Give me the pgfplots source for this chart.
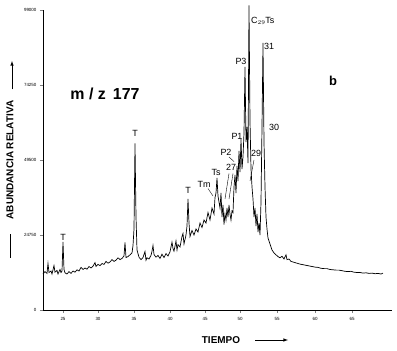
\documentclass[border=0pt]{standalone}
\usepackage{pgfplots}
\pgfplotsset{compat=1.18}
\usepackage{fontspec}
\setmainfont{Liberation Sans}
\setsansfont{Liberation Sans}
\pgfplotstableread{
px v
43 11.0
45 11.8
47 11.2
48 14.5
49 11.5
51 12.0
52 11.0
54 13.8
55 11.6
57 12.2
58 11.0
60 12.5
61 11.5
62 12.0
63 21.7
64 12.5
65 11.4
67 11.0
69 11.8
71 11.2
73 12.0
75 11.6
77 12.4
79 12.0
81 13.2
83 12.5
85 13.0
87 12.6
89 13.5
91 13.0
93 13.6
95 14.8
96 13.5
98 14.2
100 13.8
102 14.5
104 14.2
106 15.2
108 14.6
110 15.0
112 15.8
114 15.2
116 15.6
118 16.4
120 15.8
122 16.2
124 17.0
125 21.5
126 16.5
128 16.8
130 17.4
132 18.0
133 20.5
134 26.0
135 54.5
136 30.0
137 19.0
139 16.6
141 15.8
143 16.5
145 18.5
146 15.6
147 16.4
149 16.0
151 17.2
152 18.6
153 20.5
154 17.5
156 16.6
158 17.2
160 16.2
162 17.6
164 16.5
166 17.8
168 17.0
170 18.4
172 21.6
173 19.5
174 18.6
176 22.0
177 19.0
178 20.8
180 20.0
182 23.5
183 24.5
184 21.0
186 24.0
187 27.0
188 36.0
189 28.0
190 23.5
192 25.5
194 24.0
196 26.0
198 25.0
200 28.0
202 26.5
204 29.0
206 28.0
208 31.5
210 29.0
212 33.0
214 31.0
215 36.5
216 38.0
217 43.0
218 37.0
219 35.0
220 33.0
221 38.0
222 30.0
223 34.0
224 27.5
225 31.0
226 29.0
227 33.0
228 30.0
229 34.0
230 31.0
231 29.0
232 32.0
233 31.5
234 40.0
235 44.0
236 38.0
237 47.0
238 42.0
239 52.0
240 45.0
241 56.0
242 46.0
243 50.0
244 58.0
245 80.0
246 55.0
247 60.0
248 48.0
249 100.5
250 62.0
251 46.0
252 40.0
253 36.0
254 30.0
255 33.0
256 27.0
257 31.0
258 25.0
259 28.0
260 24.0
261 35.0
262 60.0
263 88.0
264 55.0
265 40.0
266 30.0
267 26.0
268 23.0
270 21.0
272 19.0
274 18.0
276 17.4
278 16.8
280 16.4
282 16.9
284 16.0
286 17.4
287 15.8
289 16.0
291 15.2
293 15.0
295 14.8
297 14.6
300 14.3
303 14.1
306 13.9
309 13.7
312 13.5
315 13.3
318 13.2
321 12.9
324 12.8
327 12.8
330 12.5
333 12.4
336 12.3
339 12.3
342 12.1
345 11.9
348 11.8
351 11.9
354 11.6
357 11.5
360 11.5
363 11.3
366 11.4
369 11.2
372 11.3
375 11.1
378 11.2
381 11.0
383 11.3
}\trace
\begin{document}
\begin{tikzpicture}
\begin{axis}[
  scale only axis, width=349bp, height=300bp,
  xmin=43, xmax=392, ymin=-1, ymax=99,
  axis lines=left, axis line style={-, line width=0.8pt},
  tick align=outside, major tick length=3bp,
  xtick={63,98,134,170,205,240,277,315,352},
  xticklabels={25,30,35,40,45,50,55,60,65},
  ytick={-1,24,49,74,99},
  yticklabels={0,24750,49500,74250,99000},
  tick label style={font=\fontsize{4.5}{5}\selectfont},
  xticklabel style={yshift=-1bp},
  clip=false,
]
\addplot[black, line width=0.7pt, sharp plot] table[x=px, y=v] {\trace};
\begin{scope}[font=\fontsize{9}{10}\selectfont, inner sep=0pt]
\node at (axis cs:63,23.3) {T};
\node at (axis cs:135,57.7) {T};
\node at (axis cs:188,38.7) {T};
\node at (axis cs:204,41) {Tm};
\node at (axis cs:216,45) {Ts};
\node at (axis cs:231,46.7) {27};
\node at (axis cs:226,51.7) {P2};
\node at (axis cs:237,56.7) {P1};
\node at (axis cs:241,81.7) {P3};
\node[anchor=west] at (axis cs:251,95.5) {C$_{29}$Ts};
\node at (axis cs:269,86.7) {31};
\node at (axis cs:274,59.7) {30};
\node at (axis cs:256,51.3) {29};
\end{scope}
\draw[black, line width=0.4pt] (axis cs:208,39.5) -- (axis cs:213,37);
\draw[black, line width=0.4pt] (axis cs:229,50) -- (axis cs:234,48.5);
\draw[black, line width=0.4pt] (axis cs:229,44.5) -- (axis cs:225,36);
\draw[black, line width=0.4pt] (axis cs:233,44.5) -- (axis cs:229,36);
\draw[black, line width=0.4pt] (axis cs:254,49) -- (axis cs:250,42);
\node[font=\fontsize{16}{17}\bfseries] at (axis cs:105,71) {m / z \,177};
\node[font=\fontsize{13}{14}\bfseries] at (axis cs:333,75.3) {b};
\node[rotate=90, font=\fontsize{10}{11}\bfseries] at (axis cs:10,49) {ABUNDANCIA RELATIVA};
\draw[-latex, line width=0.6pt] (axis cs:12,72.5) -- (axis cs:12,82);
\draw[line width=0.6pt] (axis cs:10,16.5) -- (axis cs:10,24.5);
\node[font=\fontsize{10}{11}\bfseries] at (axis cs:221,-11) {TIEMPO};
\draw[-latex, line width=0.6pt] (axis cs:255,-11) -- (axis cs:288,-11);
\end{axis}
\pgfresetboundingbox
\useasboundingbox (-43bp,-41bp) rectangle (354bp,310bp);
\end{tikzpicture}
\end{document}
